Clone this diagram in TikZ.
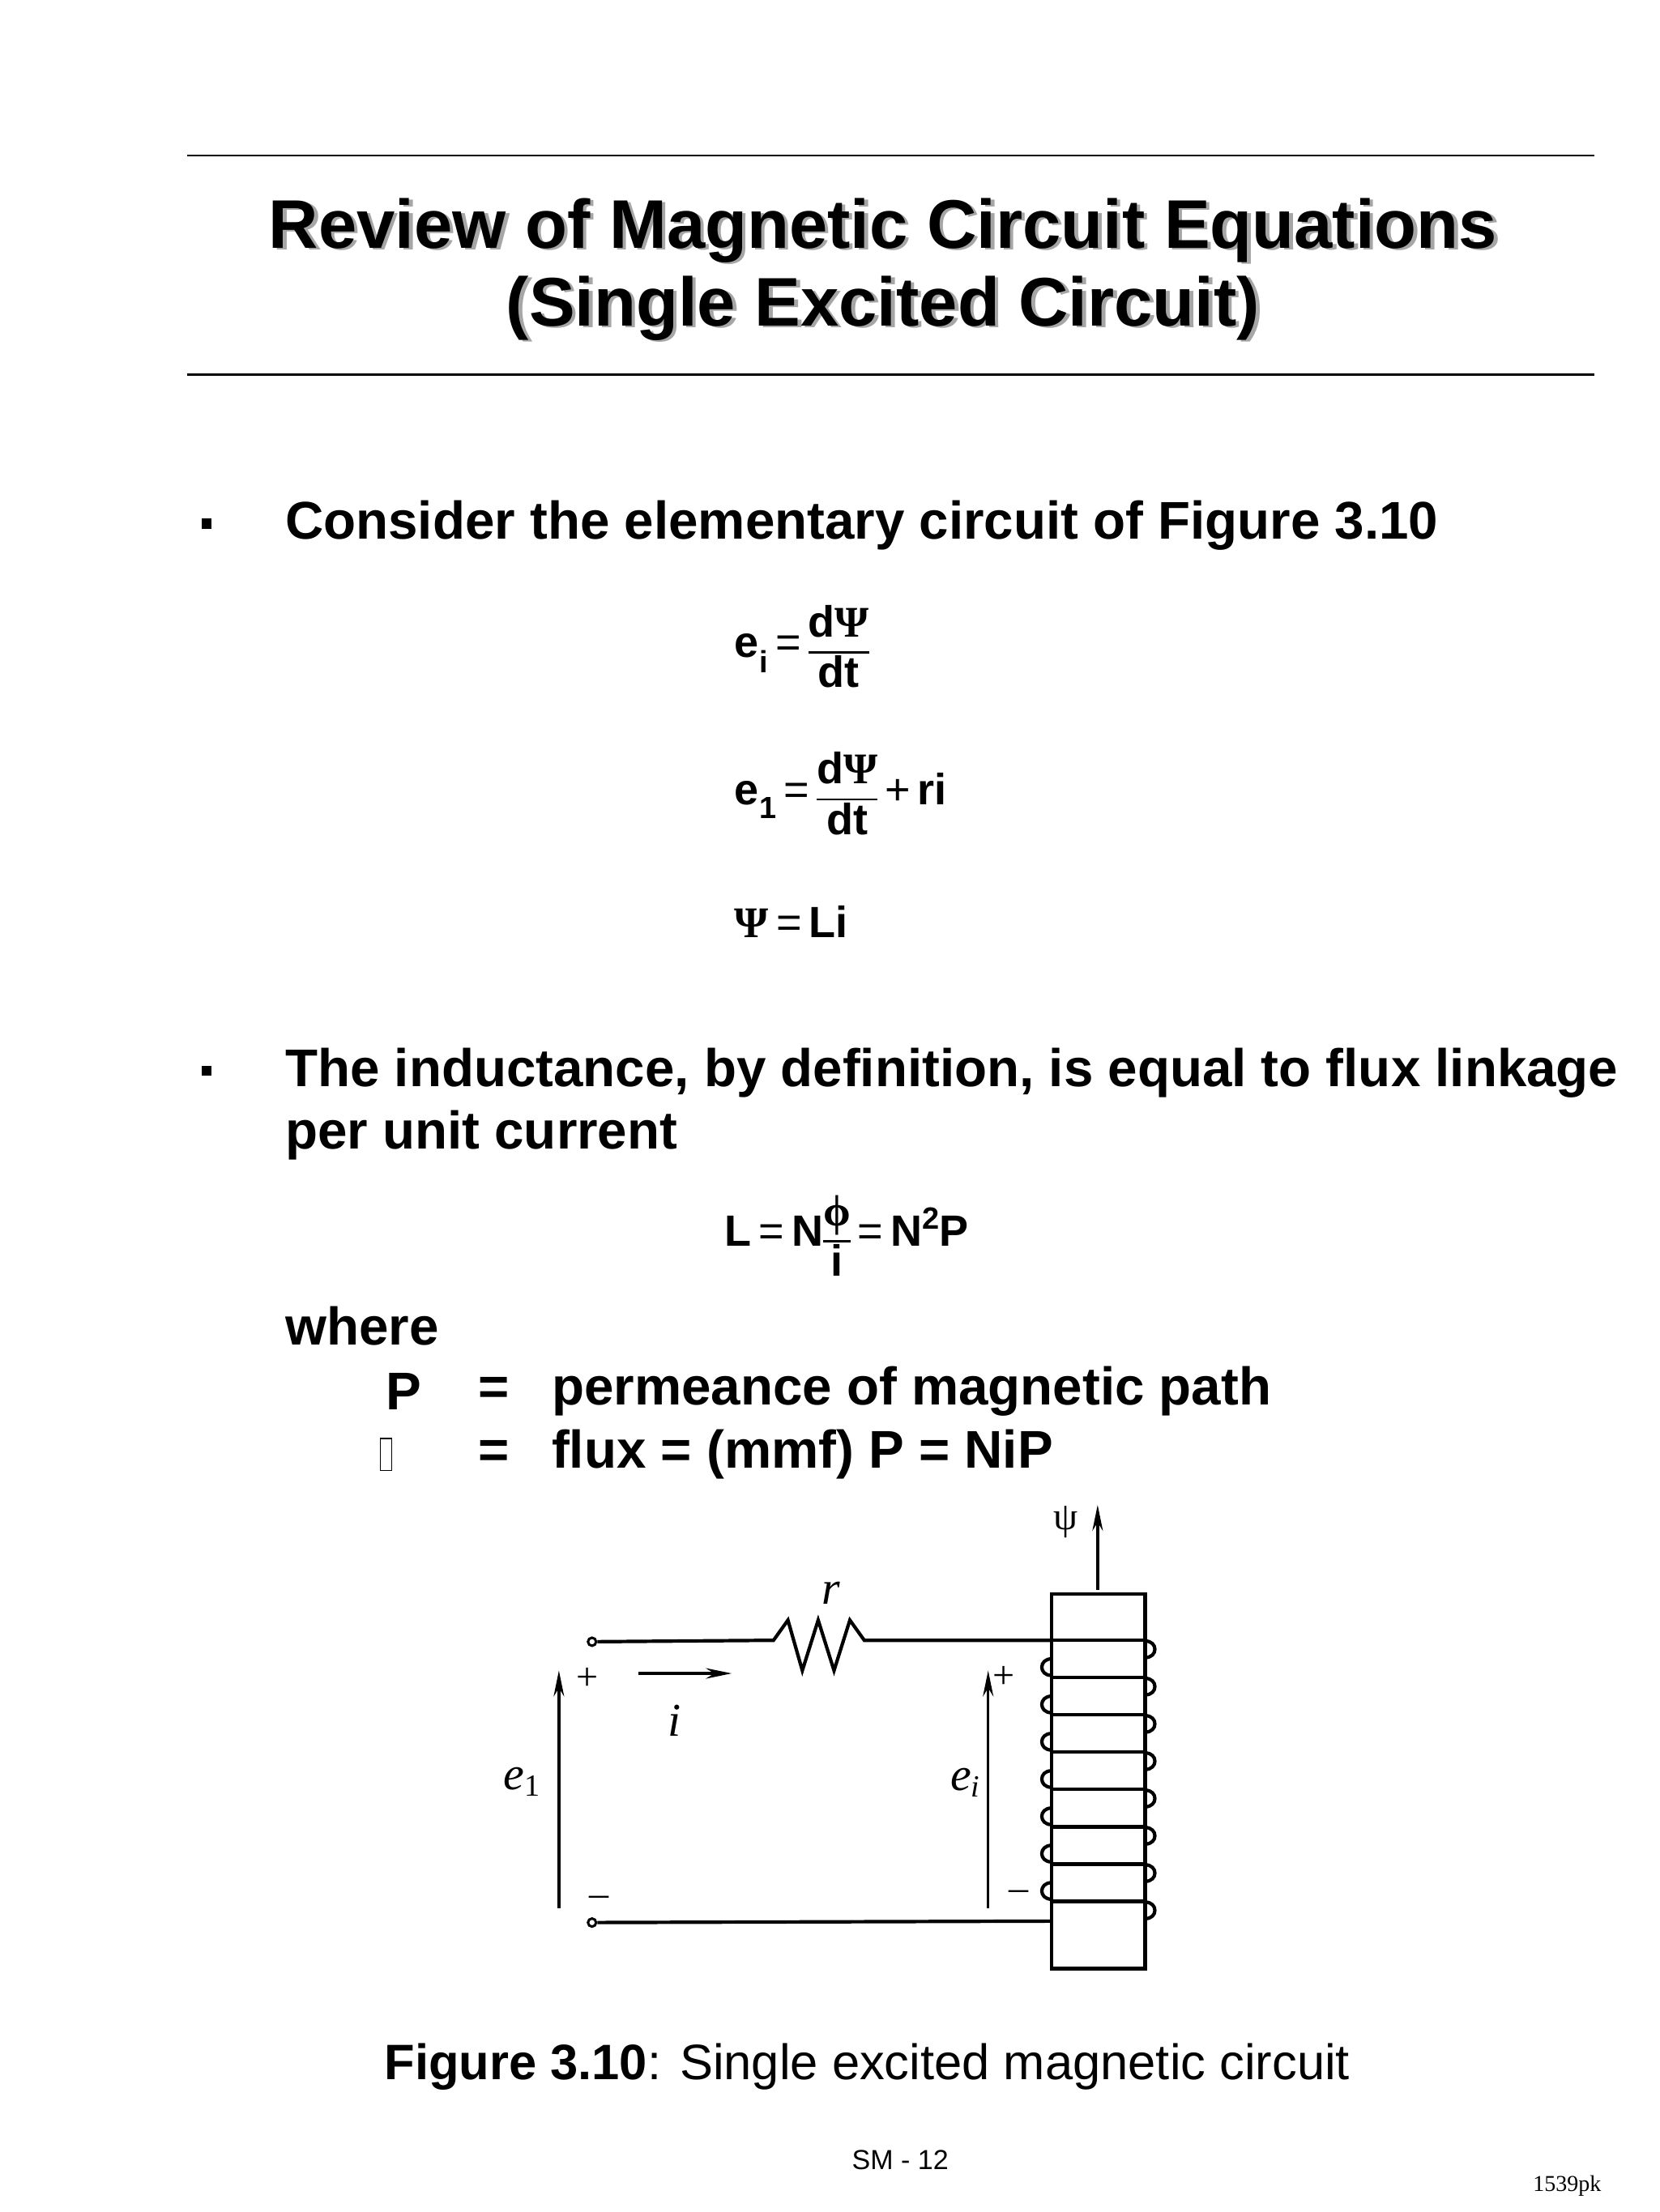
\documentclass[tikz,border=0pt]{standalone}
\usepackage[no-math]{fontspec}
\setmainfont{Liberation Sans}
\newfontfamily\serifx{Liberation Serif}
\usetikzlibrary{arrows.meta}
\newcommand{\bPsi}{{\serifx\bfseries Ψ}}
\newcommand{\fr}[2]{$\vcenter{\hbox{\setlength{\arrayrulewidth}{2.5pt}\renewcommand{\arraystretch}{1.0}\begin{tabular}{@{}c@{}}#1\\\hline #2\end{tabular}}}$}
\newcommand{\supx}[1]{\raisebox{0.75ex}{\fontsize{38}{40}\selectfont #1}}
\tikzset{
  txt/.style={font=\fontsize{65.5}{72}\selectfont\bfseries, anchor=west, inner sep=0},
  eq/.style={font=\fontsize{54}{60}\selectfont\bfseries, anchor=west, inner sep=0},
  wire/.style={line width=4.2pt},
  fig/.style={font=\fontsize{58}{64}\selectfont\serifx\itshape, inner sep=0},
  volt/.style={line width=3.4pt, -{Stealth[length=32pt,width=13pt]}},
  pm/.style={font=\fontsize{48}{52}\selectfont\serifx, inner sep=0},
}
\begin{document}
\begin{tikzpicture}[x=1.778pt,y=-1.778pt]
\useasboundingbox (0,0) rectangle (1152,1536);
% rules
\draw[line width=2.5pt] (130,108) -- (1107,108);
\draw[line width=2.5pt] (130,260) -- (1107,260);
% title with shadow
\foreach \t/\yy/\n in {{Review of Magnetic Circuit Equations}/160/ta,{(Single Excited Circuit)}/214/tb}{
  \node[font=\fontsize{85}{92}\selectfont\bfseries, text=black!35, inner sep=0] at (615.5,\yy+1.5) {\t};
  \node[font=\fontsize{85}{92}\selectfont\bfseries, inner sep=0] (\n) at (613,\yy) {\t};
}
% bullets
\fill (140,360) rectangle (147,367);
\node[txt] (b1) at (198,365) {Consider the elementary circuit of Figure 3.10};
\fill (140,740) rectangle (147,747);
\node[txt] (b2) at (198,745) {The inductance, by definition, is equal to flux linkage};
\node[txt] (b2b) at (198,788) {per unit current};
% equations
\node[eq] (e1) at (510,453) {e\textsubscript{i}\,{\mdseries =}\,\fr{d\bPsi}{dt}};
\node[eq] (e2) at (510,555) {e\textsubscript{1}\,{\mdseries =}\,\fr{d\bPsi}{dt}\,{\mdseries +}\,ri};
\node[eq] (e3) at (510,640) {\bPsi\,{\mdseries =}\,Li};
\node[eq] (e4) at (503,862) {L\,{\mdseries =}\,N\fr{\serifx ϕ}{i}\,{\mdseries =}\,N\supx{2}P};
\node[txt] (wh) at (198,921) {where};
\node[txt] (p1) at (268,966) {P};
\node[txt] (q1) at (332,966) {=};
\node[txt] (d1) at (383,966) {permeance of magnetic path};
\draw[line width=1.5pt] (264,999) rectangle (272,1021);
\node[txt] (q2) at (332,1010) {=};
\node[txt] (d2) at (383,1010) {flux = (mmf) P = NiP};
% circuit
\node[draw, line width=3pt, circle, minimum size=10pt, inner sep=0] (t1) at (411,1140) {};
\node[draw, line width=3pt, circle, minimum size=10pt, inner sep=0] (t2) at (411,1335) {};
\draw[wire] (730,1107) rectangle (795,1367);
\coordinate (cTL) at (730,1139);
\coordinate (cBL) at (730,1334);
\draw[wire] (t1) -- (537,1139) -- (547,1125) -- (557,1160) -- (568,1125) -- (579,1160) -- (590,1125) -- (600,1139) -- (cTL);
\draw[wire] (t2) -- (cBL);
\foreach \k in {0,...,7}{
  \pgfmathsetmacro{\yk}{1139+25.9*\k}
  \draw[wire] (730,\yk) -- (795,\yk);
  \draw[wire] (795,\yk+0.5) .. controls (804,\yk+0.5) and (804,\yk+12) .. (795,\yk+12);
}
\foreach \k in {1,...,7}{
  \pgfmathsetmacro{\yk}{1139+25.9*\k}
  \draw[wire] (730,\yk-13) .. controls (721,\yk-13) and (721,\yk-1.5) .. (730,\yk-1.5);
}
% psi
\coordinate (ps0) at (762,1104);
\coordinate (ps1) at (762,1045);
\draw[volt] (ps0) -- (ps1);
\node[pm] (psl) at (740,1057) {ψ};
% labels
\node[fig] (rl) at (577,1106) {r};
\coordinate (ia) at (443,1162);
\coordinate (ib) at (508,1162);
\draw[volt] (ia) -- (ib);
\node[fig] (il) at (468,1195) {i};
\coordinate (v1a) at (388,1325);
\coordinate (v1b) at (388,1160);
\draw[volt] (v1a) -- (v1b);
\node[fig] (e1l) at (362,1237) {e\raisebox{-0.3ex}{\fontsize{38}{40}\selectfont\upshape 1}};
\node[pm] at (408,1166) {+};
\node[pm] at (416,1320) {–};
\coordinate (v2a) at (686,1325);
\coordinate (v2b) at (686,1160);
\draw[volt] (v2a) -- (v2b);
\node[fig] (eil) at (670,1238) {e\raisebox{-0.3ex}{\fontsize{38}{40}\selectfont i}};
\node[pm] at (697,1165) {+};
\node[pm] at (707,1316) {–};
% caption
\node[font=\fontsize{61.5}{68}\selectfont, inner sep=0] (cap) at (602,1435) {\textbf{Figure 3.10}: Single excited magnetic circuit};
\node[font=\fontsize{34}{40}\selectfont, inner sep=0] (sm) at (625,1500) {SM - 12};
\node[font=\fontsize{28}{32}\selectfont\serifx, inner sep=0] (pk) at (1088,1518) {1539pk};
\end{tikzpicture}
\end{document}
